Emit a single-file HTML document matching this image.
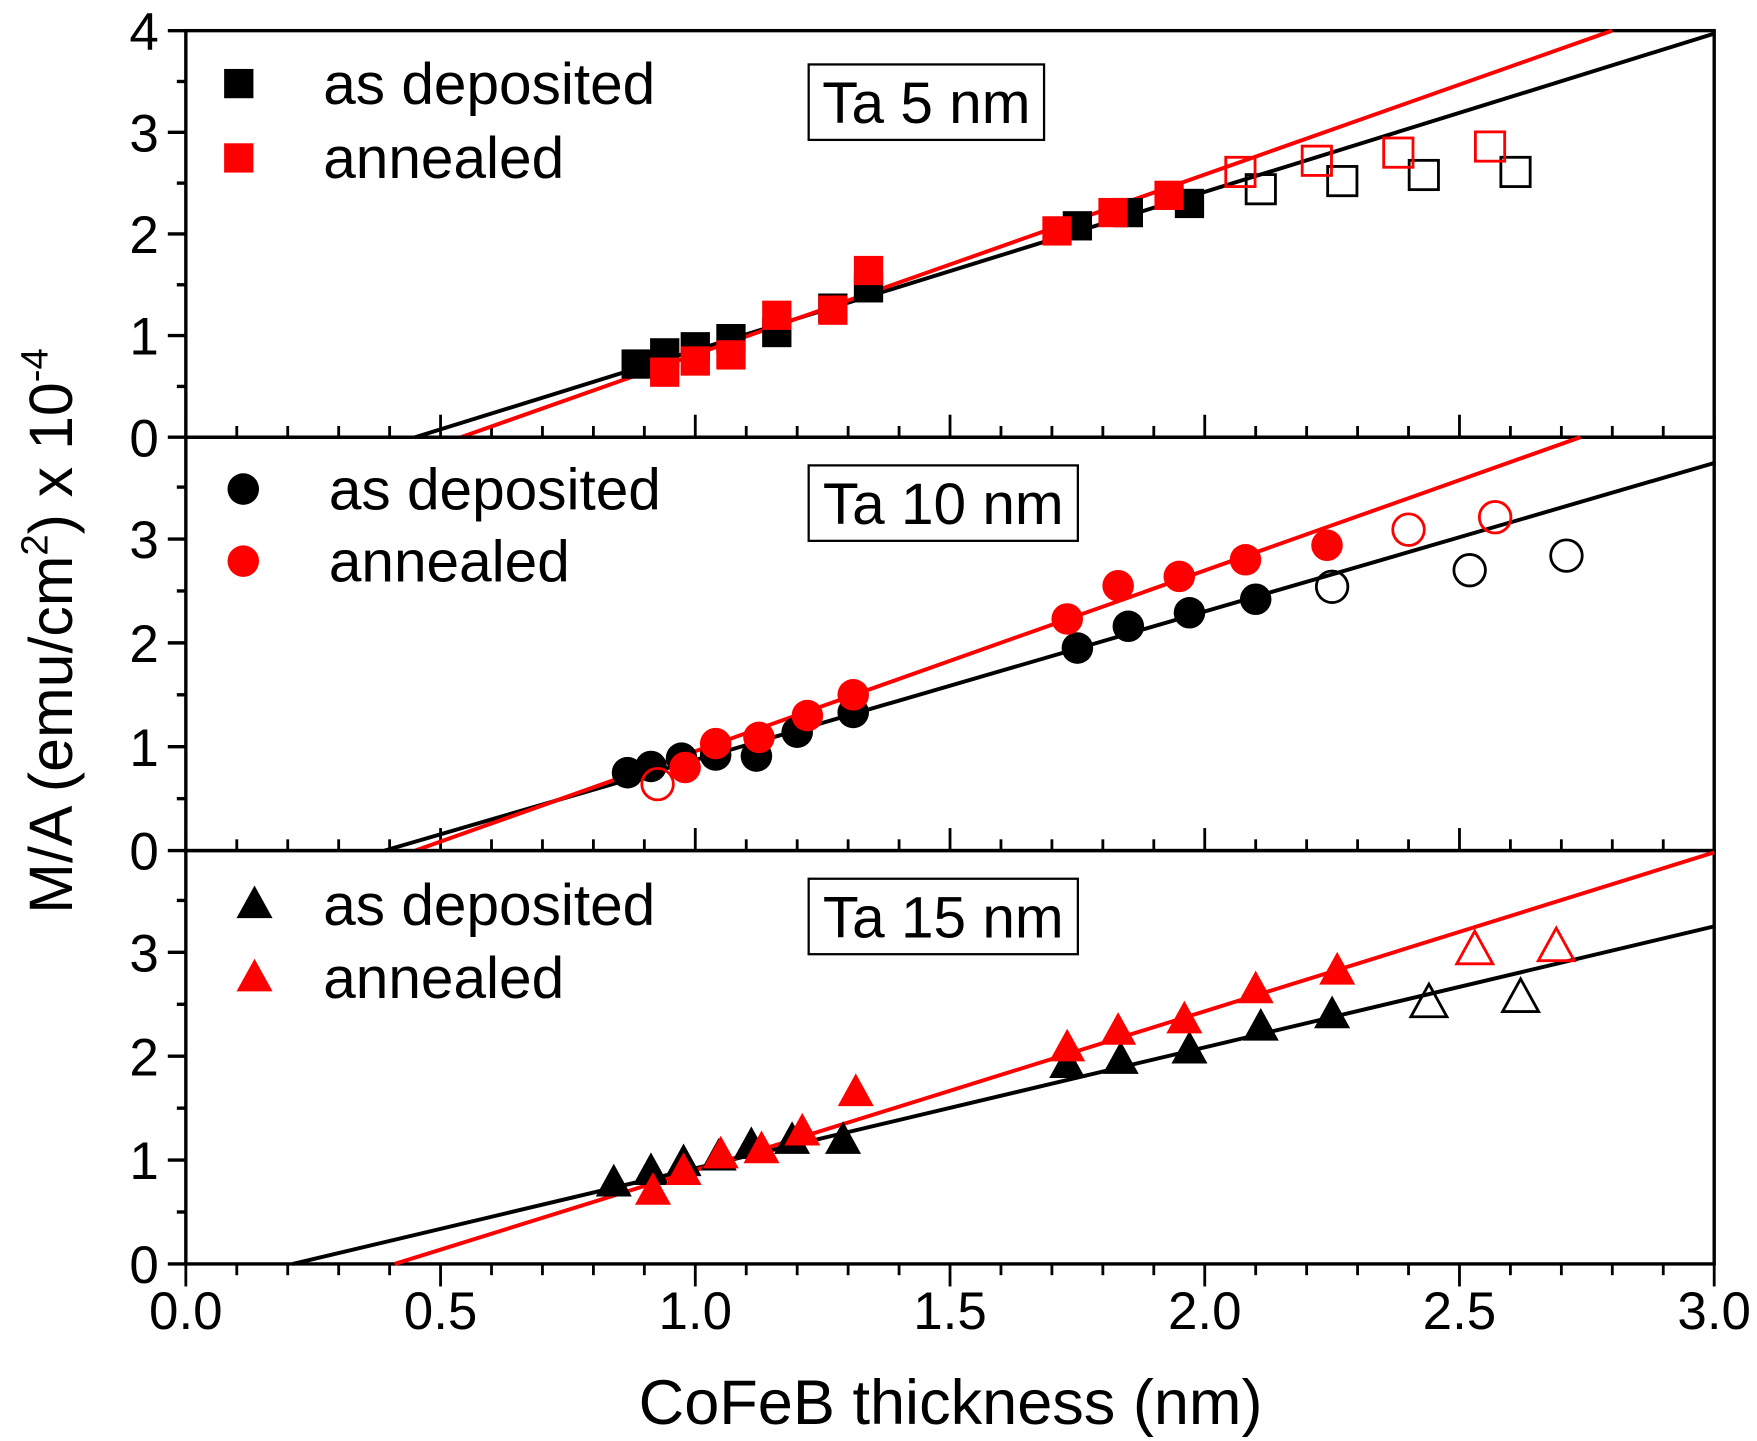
<!DOCTYPE html>
<html><head><meta charset="utf-8">
<style>
html,body{margin:0;padding:0;background:#fff;}
svg{display:block;}
text{font-family:"Liberation Sans",Arial,sans-serif;fill:#000;}
</style></head>
<body>
<svg id="chart" width="1757" height="1441" viewBox="0 0 1560 1279" xmlns="http://www.w3.org/2000/svg">
<text transform="translate(64,560) rotate(-90)" text-anchor="middle" font-size="54">M/A (emu/cm<tspan font-size="34" dy="-22">2</tspan><tspan dy="22">) x 10</tspan><tspan font-size="34" dy="-22">-4</tspan></text>
<text x="844" y="1264" text-anchor="middle" font-size="56">CoFeB thickness (nm)</text>
</svg>
<script>
// ---- data ----
const xTicks = [0.0, 0.5, 1.0, 1.5, 2.0, 2.5, 3.0];
const xTickLabels = ["0.0","0.5","1.0","1.5","2.0","2.5","3.0"];
const yTicks = [0,1,2,3,4];
const panelTitles = ["Ta 5 nm","Ta 10 nm","Ta 15 nm"];
const markerShapes = ["square","circle","triangle"];

// Ta 5 nm
const p1DepX = [0.884,0.94,1.0,1.07,1.16,1.27,1.34,1.75,1.85,1.97];
const p1DepY = [0.72,0.83,0.89,0.97,1.03,1.27,1.47,2.08,2.21,2.30];
const p1AnnX = [0.94,1.0,1.07,1.16,1.27,1.34,1.71,1.82,1.93];
const p1AnnY = [0.64,0.75,0.81,1.20,1.25,1.64,2.03,2.21,2.38];
const p1DepOpenX = [2.11,2.27,2.43,2.61];
const p1DepOpenY = [2.44,2.52,2.58,2.61];
const p1AnnOpenX = [2.07,2.22,2.38,2.56];
const p1AnnOpenY = [2.61,2.72,2.80,2.86];
const p1DepFit = [0.45, 1.557]; // x-intercept, slope
const p1AnnFit = [0.54, 1.77];

// Ta 10 nm
const p2DepX = [0.867,0.913,0.973,1.04,1.12,1.20,1.31,1.75,1.85,1.97,2.10];
const p2DepY = [0.75,0.81,0.89,0.92,0.91,1.14,1.33,1.95,2.16,2.29,2.42];
const p2AnnX = [0.98,1.04,1.125,1.22,1.31,1.73,1.83,1.95,2.08,2.24];
const p2AnnY = [0.80,1.03,1.09,1.30,1.50,2.23,2.55,2.64,2.80,2.94];
const p2DepOpenX = [2.25,2.52,2.71];
const p2DepOpenY = [2.54,2.70,2.84];
const p2AnnOpenX = [0.926,2.40,2.57];
const p2AnnOpenY = [0.64,3.09,3.21];
const p2DepFit = [0.39, 1.43];
const p2AnnFit = [0.45, 1.74];

// Ta 15 nm
const p3DepX = [0.84,0.913,0.977,1.046,1.11,1.19,1.29,1.73,1.835,1.97,2.11,2.25];
const p3DepY = [0.78,0.89,0.975,1.03,1.14,1.19,1.19,1.92,1.96,2.06,2.28,2.40];
const p3AnnX = [0.917,0.977,1.05,1.13,1.21,1.315,1.73,1.83,1.96,2.10,2.26];
const p3AnnY = [0.70,0.89,1.05,1.10,1.27,1.65,2.08,2.24,2.35,2.64,2.82];
const p3DepOpenX = [2.44,2.62];
const p3DepOpenY = [2.51,2.56];
const p3AnnOpenX = [2.53,2.69];
const p3AnnOpenY = [3.02,3.05];
const p3DepFit = [0.21, 1.165];
const p3AnnFit = [0.41, 1.53];

// ---- layout ----
const NS = "http://www.w3.org/2000/svg";
const svg = document.getElementById('chart');
const X0 = 165, X1 = 1522, XMAX = 3.0;
const panelTop = [27, 388, 755];
const panelBot = [388, 755, 1122];
const panelYMax = [4, 3.98, 3.98];
function xs(v){ return X0 + (X1 - X0) * v / XMAX; }
function ysFor(i){ return v => panelBot[i] - (panelBot[i]-panelTop[i]) * v / panelYMax[i]; }
function mk(tag, attrs){ const e = document.createElementNS(NS, tag); for (const k in attrs) e.setAttribute(k, attrs[k]); svg.appendChild(e); return e; }

const panels = [
 {dx:p1DepX,dy:p1DepY,ax:p1AnnX,ay:p1AnnY,dox:p1DepOpenX,doy:p1DepOpenY,aox:p1AnnOpenX,aoy:p1AnnOpenY,df:p1DepFit,af:p1AnnFit},
 {dx:p2DepX,dy:p2DepY,ax:p2AnnX,ay:p2AnnY,dox:p2DepOpenX,doy:p2DepOpenY,aox:p2AnnOpenX,aoy:p2AnnOpenY,df:p2DepFit,af:p2AnnFit},
 {dx:p3DepX,dy:p3DepY,ax:p3AnnX,ay:p3AnnY,dox:p3DepOpenX,doy:p3DepOpenY,aox:p3AnnOpenX,aoy:p3AnnOpenY,df:p3DepFit,af:p3AnnFit}
];

function marker(shape, cx, cy, color, filled, name){
  let e;
  if (shape === 'square') {
    e = mk('rect', {x:cx-13, y:cy-13, width:26, height:26});
  } else if (shape === 'circle') {
    e = mk('circle', {cx:cx, cy:cy, r:14});
  } else {
    e = mk('polygon', {points:`${cx},${cy-17} ${cx+16},${cy+12} ${cx-16},${cy+12}`});
  }
  if (filled) { e.setAttribute('fill', color); }
  else { e.setAttribute('fill', 'none'); e.setAttribute('stroke', color); e.setAttribute('stroke-width', 2.5); }
  
  
  return e;
}

function fitLine(i, fit, color, name){
  const ys = ysFor(i);
  const x0 = fit[0];
  let x1 = XMAX, y1 = fit[1]*(XMAX - x0);
  if (y1 > panelYMax[i]) { y1 = panelYMax[i]; x1 = x0 + y1/fit[1]; }
  const l = mk('line', {x1:xs(x0), y1:ys(0), x2:xs(x1), y2:ys(y1), stroke:color, 'stroke-width':3.5});
  
  
}

panels.forEach((p, i) => {
  const ys = ysFor(i);
  const shape = markerShapes[i];
  const fr = mk('rect', {x:X0, y:panelTop[i], width:X1-X0, height:panelBot[i]-panelTop[i], fill:'none', stroke:'#000', 'stroke-width':3});
  
  
  yTicks.forEach(t => {
    if (t > panelYMax[i] + 0.01) return;
    if (i > 0 && t === 4) return;
    const y = ys(t);
    mk('line', {x1:X0-16, y1:y, x2:X0, y2:y, stroke:'#000', 'stroke-width':3});
    const tx = mk('text', {x:X0-24, y:y+17, 'text-anchor':'end', 'font-size':47});
    tx.textContent = String(t);
    
    
    if (t + 0.5 <= panelYMax[i]) {
      const ym = ys(t + 0.5);
      mk('line', {x1:X0-8, y1:ym, x2:X0, y2:ym, stroke:'#000', 'stroke-width':3});
    }
  });
  for (let k = 0; k <= 30; k++) {
    const v = k * 0.1, x = xs(v);
    const major = (k % 5 === 0);
    const len = major ? 20 : 10;
    if (i < 2) mk('line', {x1:x, y1:panelBot[i], x2:x, y2:panelBot[i]-len, stroke:'#000', 'stroke-width':2.5});
    else mk('line', {x1:x, y1:panelBot[i], x2:x, y2:panelBot[i]+len, stroke:'#000', 'stroke-width':2.5});
  }
  fitLine(i, p.df, '#000', 'fit-as-deposited-' + (i+1));
  fitLine(i, p.af, '#ff0000', 'fit-annealed-' + (i+1));
  p.dx.forEach((v, j) => marker(shape, xs(v), ys(p.dy[j]), '#000', true, 'point-as-deposited'));
  p.ax.forEach((v, j) => marker(shape, xs(v), ys(p.ay[j]), '#ff0000', true, 'point-annealed'));
  p.dox.forEach((v, j) => marker(shape, xs(v), ys(p.doy[j]), '#000', false, 'point-as-deposited-open'));
  p.aox.forEach((v, j) => marker(shape, xs(v), ys(p.aoy[j]), '#ff0000', false, 'point-annealed-open'));
  const lx = [212,216,226][i], tx = [287,292,287][i];
  const ly1 = panelTop[i] + [47,46,48][i], ly2 = panelTop[i] + [113,110,113][i];
  marker(shape, lx, ly1, '#000', true, 'legend-marker-as-deposited');
  marker(shape, lx, ly2, '#ff0000', true, 'legend-marker-annealed');
  const t1 = mk('text', {x:tx, y:ly1+18, 'font-size':52}); t1.textContent = 'as deposited';
  
  
  const t2 = mk('text', {x:tx, y:ly2+18, 'font-size':52}); t2.textContent = 'annealed';
  
  
  const bw = i === 0 ? 209 : 239;
  const by = panelTop[i] + [30,25,25][i];
  const box = mk('rect', {x:718, y:by, width:bw, height:67, fill:'#fff', stroke:'#000', 'stroke-width':2});
  
  
  const tt = mk('text', {x:718+bw/2, y:by+52, 'text-anchor':'middle', 'font-size':52});
  tt.textContent = panelTitles[i];
  
  
});
xTicks.forEach((v, k) => {
  const t = mk('text', {x:xs(v), y:1180, 'text-anchor':'middle', 'font-size':47});
  t.textContent = xTickLabels[k];
  
  
});
</script>
</body></html>
